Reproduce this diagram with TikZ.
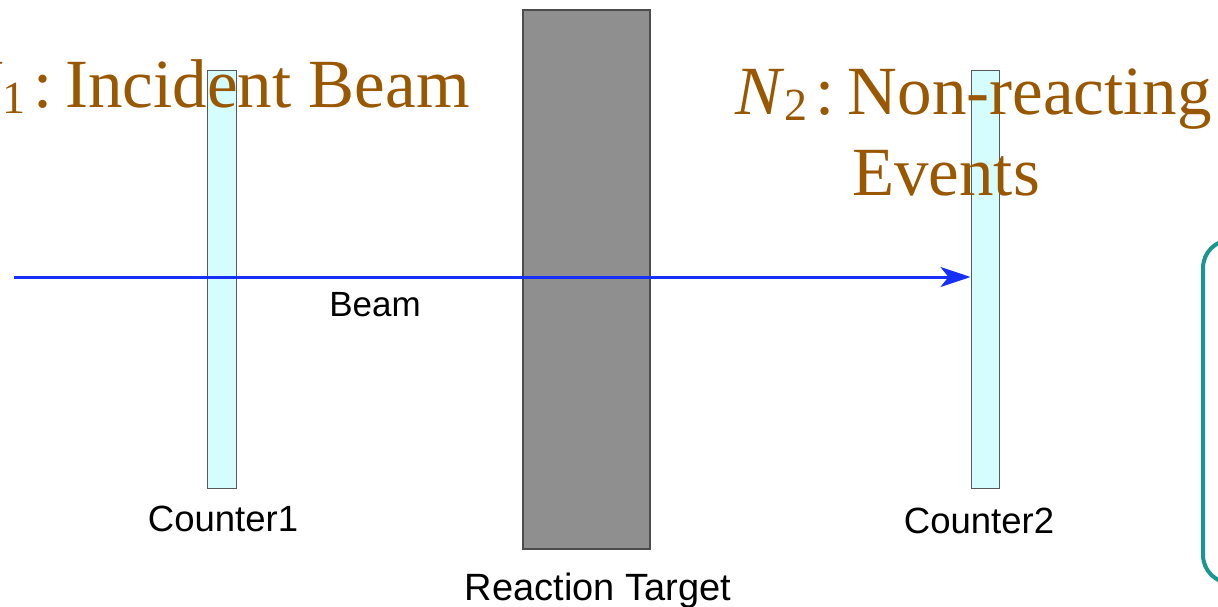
\documentclass[tikz,border=0pt]{standalone}
\usepackage{fontspec}
\setmainfont{Liberation Serif}
\setsansfont{Liberation Sans}
\usetikzlibrary{arrows.meta}
\definecolor{brownT}{RGB}{153,87,0}
\definecolor{beamblue}{RGB}{22,48,250}
\definecolor{cntfill}{RGB}{213,253,253}
\definecolor{tgtfill}{RGB}{143,143,143}
\definecolor{tealbox}{RGB}{26,150,145}
\tikzset{
  counterbox/.style={draw=black!65, line width=1pt, fill=cntfill, inner sep=0, minimum width=29pt, minimum height=417pt},
  targetbox/.style={draw=black!70, line width=1.3pt, fill=tgtfill, inner sep=0, minimum width=127pt, minimum height=539pt},
  sanslabel/.style={font=\sffamily\fontsize{36.5}{40}\selectfont, inner sep=0, anchor=base},
  bigbrown/.style={font=\fontsize{69}{80}\selectfont, text=brownT, inner sep=0},
  beamline/.style={draw=beamblue, line width=3pt, -{Stealth[length=30pt,width=20pt,inset=8pt]}},
}
\newcommand{\subtwo}[1]{\raisebox{-0.08em}{\fontsize{46}{50}\selectfont #1}}
\begin{document}
\begin{tikzpicture}[x=1pt,y=-1pt]
\useasboundingbox (0,0) rectangle (1218,607);
\clip (0,0) rectangle (1218,607);
\fill[white] (0,0) rectangle (1218,607);
% target and counters
\node[targetbox] (tgt) at (586.5,279.5) {};
\node[counterbox] (c1) at (221.5,279.5) {};
\node[counterbox, minimum width=28pt] (c2) at (985,279.5) {};
% beam
\coordinate (src) at (14,277);
\draw[beamline] (src) -- (src -| c2.west);
% labels
\node[sanslabel, font=\sffamily\fontsize{35}{40}\selectfont] (lbeam) at (375,316) {Beam};
\node[sanslabel] (lc1) at (223,531) {Counter1};
\node[sanslabel] (lc2) at (979,533) {Counter2};
\node[sanslabel, font=\sffamily\fontsize{38}{42}\selectfont] (ltgt) at (598,600) {Reaction Target};
% brown texts
\node[bigbrown, anchor=base east] (n1) at (470,108) {\textit{N}\subtwo{1}\hspace{8pt}:\hspace{13pt}Incident Beam};
\node[bigbrown, anchor=base east] (n2) at (1212,115) {\textit{N}\subtwo{2}\hspace{8pt}:\hspace{13pt}Non-reacting};
\node[bigbrown, anchor=base] (n2b) at (946,195) {Events};
% teal rounded box (partially outside)
\draw[tealbox, line width=4pt, rounded corners=28pt] (1203,240) rectangle (1320,583);
\end{tikzpicture}
\end{document}
